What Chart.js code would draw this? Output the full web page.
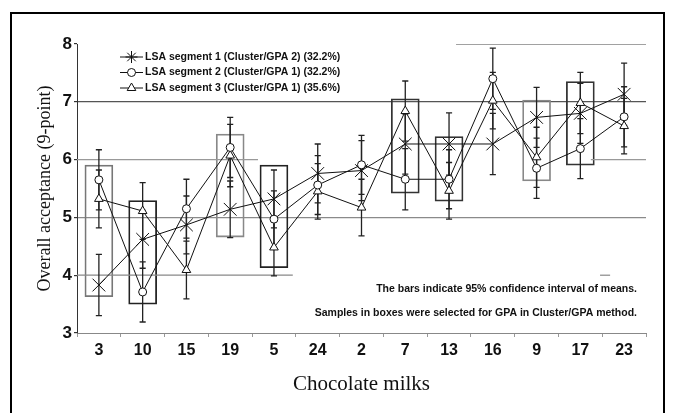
<!DOCTYPE html>
<html><head><meta charset="utf-8">
<style>html,body{margin:0;padding:0;background:#fff;}canvas{display:block;}</style>
<script src="https://cdn.jsdelivr.net/npm/chart.js@4.4.0/dist/chart.umd.min.js"></script>
</head><body>
<canvas id="c" width="673" height="413"></canvas>
<script>
// ---- data ----
const samples = ['3','10','15','19','5','24','2','7','13','16','9','17','23'];
const seriesNames = [
  'LSA segment 1 (Cluster/GPA 2) (32.2%)',
  'LSA segment 2 (Cluster/GPA 1) (32.2%)',
  'LSA segment 3 (Cluster/GPA 1) (35.6%)'
];
const seg1 = [3.83, 4.62, 4.87, 5.14, 5.32, 5.76, 5.81, 6.27, 6.27, 6.27, 6.73, 6.80, 7.13];
const seg2 = [5.65, 3.71, 5.15, 6.21, 4.97, 5.56, 5.91, 5.66, 5.66, 7.40, 5.85, 6.19, 6.74];
const seg3 = [5.32, 5.11, 4.09, 6.07, 4.48, 5.45, 5.17, 6.84, 5.46, 7.02, 6.04, 6.98, 6.58];
// half-widths of 95% confidence intervals
const ci1 = [0.53, 0.50, 0.50, 0.49, 0.50, 0.51, 0.52, 0.52, 0.54, 0.53, 0.52, 0.52, 0.54];
const ci2 = [0.52, 0.52, 0.51, 0.52, 0.49, 0.51, 0.51, 0.53, 0.51, 0.53, 0.52, 0.52, 0.52];
const ci3 = [0.50, 0.49, 0.50, 0.54, 0.49, 0.48, 0.49, 0.52, 0.49, 0.49, 0.52, 0.53, 0.48];
// boxed samples (selected for GPA)
const boxIndex = [0, 1, 3, 4, 7, 8, 10, 11];
const boxLow  = [3.63, 3.50, 4.66, 4.13, 5.42, 5.28, 5.63, 5.905];
const boxHigh = [5.905, 5.29, 6.44, 5.905, 7.05, 6.40, 7.03, 7.35];
// partial reference lines (level, from index, to index)
const refLevel = [8, 6, 6, 4, 4];
const refFrom  = [8.16, -0.5, 11.24, -0.5, 11.45];
const refTo    = [12.5, 3.635, 12.5, 4.43, 11.68];
const notes = [
  'The bars indicate 95% confidence interval of means.',
  'Samples in boxes were selected for GPA in Cluster/GPA method.'
];

// ---- styles ----
const boxColors = ['#777','#222','#888','#222','#333','#333','#888','#333'];
const refColors = ['#444','#999','#999','#888','#888'];
const pointStyles = ['crossRot','circle','triangle'];
const pointRadii = [9, 4, 5];

function errData(means, ci){
  const d = [];
  const w = 0.07;
  means.forEach((m,i)=>{
    const lo = m - ci[i], hi = m + ci[i];
    d.push({x:i,y:lo},{x:i,y:hi},{x:i,y:null},
           {x:i-w,y:hi},{x:i+w,y:hi},{x:i,y:null},
           {x:i-w,y:lo},{x:i+w,y:lo},{x:i,y:null});
  });
  return d;
}

const means = [seg1, seg2, seg3];
const cis = [ci1, ci2, ci3];
const datasets = [];

means.forEach((m,k)=>{
  datasets.push({
    type:'line', label:seriesNames[k], data:m, xAxisID:'x', yAxisID:'y',
    borderColor:'#111', borderWidth:1, pointStyle:pointStyles[k], pointRadius:pointRadii[k],
    pointBackgroundColor:'#fff', pointBorderColor:'#111', pointBorderWidth:1, tension:0, order:k+1
  });
});
cis.forEach((c,k)=>{
  datasets.push({
    type:'line', label:'err'+k, data:errData(means[k], c), xAxisID:'xl', yAxisID:'y',
    borderColor:'#222', borderWidth:1.3, pointRadius:0, spanGaps:false, order:20
  });
});
refLevel.forEach((lv,k)=>{
  datasets.push({
    type:'line', label:'ref'+k, data:[{x:refFrom[k],y:lv},{x:refTo[k],y:lv}], xAxisID:'xl', yAxisID:'y',
    borderColor:refColors[k], borderWidth:1.2, pointRadius:0, order:30
  });
});
datasets.push({
  type:'bar', label:'boxes', xAxisID:'xl', yAxisID:'y', grouped:false,
  data: boxIndex.map((i,k)=>({x:i, y:[boxLow[k], boxHigh[k]]})),
  backgroundColor:'rgba(0,0,0,0)', borderColor:boxColors, borderWidth:1.1,
  borderSkipped:false, barThickness:28, order:40
});

const decor = {
  id:'decor',
  beforeDraw(chart){
    const ctx = chart.ctx;
    ctx.save(); ctx.fillStyle='#fff'; ctx.fillRect(0,0,chart.width,chart.height); ctx.restore();
  },
  afterDraw(chart){
    const ctx = chart.ctx;
    ctx.save();
    // outer frame
    ctx.strokeStyle='#000'; ctx.lineWidth=2;
    ctx.strokeRect(11,13,653,420);
    // legend
    ctx.font = 'bold 10.5px "Liberation Sans", Arial, sans-serif';
    ctx.textBaseline = 'middle';
    ctx.textAlign = 'left';
    seriesNames.forEach((n,k)=>{
      const y = 57 + k*15.5;
      ctx.strokeStyle='#111'; ctx.lineWidth=1;
      ctx.beginPath(); ctx.moveTo(120,y); ctx.lineTo(143,y); ctx.stroke();
      ctx.fillStyle='#fff';
      Chart.helpers.drawPoint(ctx,{pointStyle:pointStyles[k]==='crossRot'?'star':pointStyles[k], radius:k===0?6:pointRadii[k], borderWidth:1, rotation:0},131.5,y);
      ctx.fillStyle='#111';
      ctx.fillText(n,145,y);
    });
    // notes
    ctx.textAlign='right';
    ctx.fillStyle='#111';
    notes.forEach((t,k)=>{ ctx.fillText(t,637,289+k*24); });
    ctx.restore();
  }
};

new Chart(document.getElementById('c'),{
  type:'line',
  data:{labels:samples, datasets},
  options:{
    responsive:false, animation:false, devicePixelRatio:1,
    layout:{padding:{left:0,right:27,top:44,bottom:0}},
    plugins:{legend:{display:false}, tooltip:{enabled:false}},
    scales:{
      x:{type:'category', offset:true,
         grid:{offset:true, drawOnChartArea:false, tickLength:4, color:'#999'},
         border:{color:'#888', width:1},
         ticks:{font:{family:'"Liberation Sans", Arial', size:16, weight:'bold'}, color:'#111', padding:4, maxRotation:0, autoSkip:false},
         title:{display:true, text:'Chocolate milks', font:{family:'"Liberation Serif", "Times New Roman"', size:21, weight:'normal'}, color:'#111', padding:{top:0,bottom:16}},
         afterFit:s=>{s.height=80;}
      },
      xl:{type:'linear', display:false, min:-0.5, max:12.5, offset:false},
      y:{type:'linear', min:3, max:8, beginAtZero:false,
         ticks:{stepSize:1, font:{family:'"Liberation Sans", Arial', size:17, weight:'bold'}, color:'#111', padding:2},
         grid:{color:c=> c.tick && c.tick.value===7 ? '#555' : (c.tick && c.tick.value===5 ? '#8a8a8a' : 'rgba(0,0,0,0)'), tickLength:3, tickColor:'#333', lineWidth:1.2},
         border:{color:'#333', width:1},
         title:{display:true, text:'Overall acceptance (9-point)', font:{family:'"Liberation Serif", "Times New Roman"', size:18, weight:'normal'}, color:'#111', padding:{top:34,bottom:0}},
         afterFit:s=>{s.width=77;}
      }
    }
  },
  plugins:[decor]
});
</script>
</body></html>
